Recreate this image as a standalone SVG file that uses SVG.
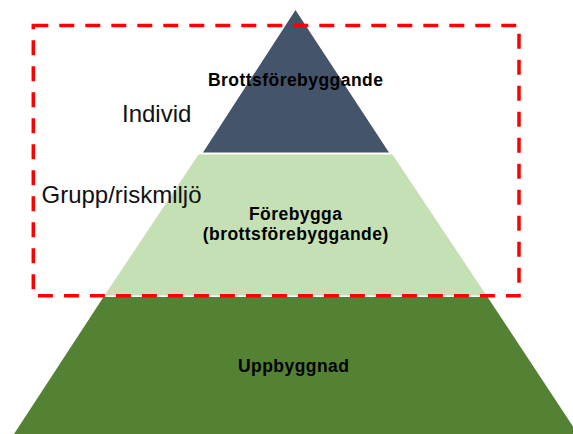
<svg xmlns="http://www.w3.org/2000/svg" width="573" height="434" viewBox="0 0 573 434">
  <style>
    .lbl { font-family: "Liberation Sans", Arial, sans-serif; font-weight: bold; font-size: 17.5px; letter-spacing: 0.45px; fill: #000; text-anchor: middle; }
    .side { font-family: "Liberation Sans", Arial, sans-serif; font-size: 24px; fill: #111; }
  </style>
  <rect width="573" height="434" fill="#fff"/>
  <g id="level-top">
    <polygon points="295.5,10 203,152.5 389,152.5" fill="#44546A"/>
    <text class="lbl" x="295.7" y="86">Brottsförebyggande</text>
  </g>
  <g id="level-middle">
    <polygon points="198.5,154.5 392.5,154.5 486.5,295.5 104.5,295.5" fill="#C5E0B4"/>
    <text class="lbl" x="295.7" y="220">Förebygga</text>
    <text class="lbl" x="295.7" y="239.5">(brottsförebyggande)</text>
  </g>
  <g id="level-bottom">
    <polygon points="103.5,297 487.5,297 578,434 14,434" fill="#548235"/>
    <text class="lbl" x="293.7" y="371.5">Uppbyggnad</text>
  </g>
  <g id="scope">
    <rect x="33.3" y="25.5" width="485.7" height="270.2" fill="none" stroke="#FF0000" stroke-width="3.5" stroke-dasharray="15 11"/>
    <text class="side" x="122" y="122">Individ</text>
    <text class="side" x="41.5" y="203">Grupp/riskmiljö</text>
  </g>
</svg>
